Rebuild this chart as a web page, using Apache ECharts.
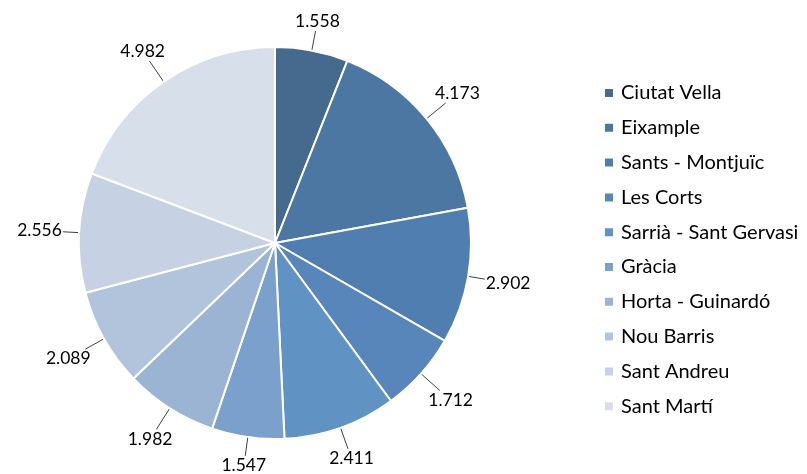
<!DOCTYPE html>
<html>
<head>
<meta charset="utf-8">
<script src="https://cdn.jsdelivr.net/npm/echarts@6/dist/echarts.min.js"></script>
<style>
  html, body { margin: 0; padding: 0; background: #ffffff; }
  #chart { width: 807px; height: 474px; }
</style>
</head>
<body>
<div id="chart"></div>
<script>
// Districts of Barcelona and their values
const districts = [
  'Ciutat Vella', 'Eixample', 'Sants - Montjuïc', 'Les Corts',
  'Sarrià - Sant Gervasi', 'Gràcia', 'Horta - Guinardó',
  'Nou Barris', 'Sant Andreu', 'Sant Martí'
];
const values = [1.558, 4.173, 2.902, 1.712, 2.411, 1.547, 1.982, 2.089, 2.556, 4.982];
const colors = [
  '#456a8e', '#4b77a2', '#517eb0', '#5886ba', '#6093c4',
  '#7ba0cb', '#9cb4d4', '#b2c3dc', '#c6d1e4', '#d7dfea'
];

// Pie geometry
const CX = 275, CY = 243, R = 196;
const LINE_LEN = 17;   // gap between the rim and the nearest edge of a value label

const fontFamily = 'Lato, "Open Sans", sans-serif';

const chart = echarts.init(document.getElementById('chart'), null, { renderer: 'canvas' });

// Put each value label radially outside its slice, with a straight leader
// line from the rim to the edge of the label box.
function placeLabel(params) {
  const pts = params.labelLinePoints;
  const sx = pts[0][0], sy = pts[0][1];
  let dx = sx - CX, dy = sy - CY;
  const len = Math.hypot(dx, dy) || 1;
  dx /= len; dy /= len;
  const hw = params.labelRect.width / 2;
  const hh = params.labelRect.height / 2;
  const ext = Math.abs(dx) * hw + Math.abs(dy) * hh;
  const rc = R + LINE_LEN + ext;
  const lx = CX + dx * rc, ly = CY + dy * rc;
  // distance from label centre to its box edge along the ray
  const tx = Math.abs(dx) > 1e-6 ? hw / Math.abs(dx) : Infinity;
  const ty = Math.abs(dy) > 1e-6 ? hh / Math.abs(dy) : Infinity;
  const t = Math.min(tx, ty) + 1;
  const ex = lx - dx * t, ey = ly - dy * t;
  const rx = CX + dx * R, ry = CY + dy * R;
  return {
    x: lx,
    y: ly,
    align: 'center',
    verticalAlign: 'middle',
    labelLinePoints: [[rx, ry], [ex, ey], [ex, ey]]
  };
}

chart.setOption({
  animation: false,
  color: colors,
  legend: {
    orient: 'vertical',
    left: 598,
    top: 78,
    icon: 'rect',
    itemWidth: 10,
    itemHeight: 10,
    itemGap: 14.8,
    textStyle: { fontFamily: fontFamily, fontSize: 20, color: '#000000', padding: [0, 0, 0, 2] },
    data: districts
  },
  series: [{
    type: 'pie',
    center: [CX, CY],
    radius: [0, R],
    startAngle: 90,
    clockwise: true,
    avoidLabelOverlap: false,
    itemStyle: { borderColor: '#ffffff', borderWidth: 2 },
    label: {
      show: true,
      position: 'outside',
      fontFamily: fontFamily,
      fontSize: 17.5,
      color: '#000000',
      formatter: p => p.value.toFixed(3)
    },
    labelLine: {
      show: true,
      length: 10,
      length2: 0,
      lineStyle: { color: '#404040', width: 1 }
    },
    labelLayout: placeLabel,
    data: districts.map((name, i) => ({ name: name, value: values[i] }))
  }]
});
</script>
</body>
</html>
